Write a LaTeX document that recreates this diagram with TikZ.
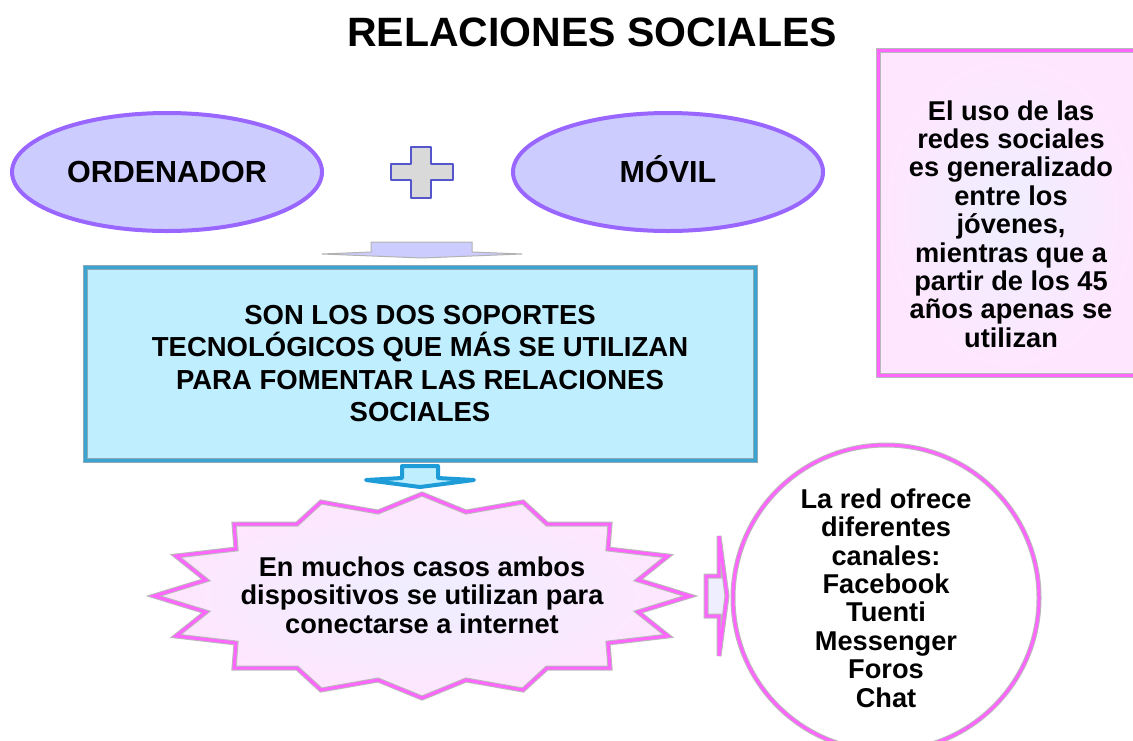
\documentclass[tikz,border=0pt]{standalone}
\usepackage{fontspec}
\setmainfont{Liberation Sans}
\usetikzlibrary{shapes.geometric}
\definecolor{lilac}{HTML}{CCCCFF}
\definecolor{ringpurple}{HTML}{9966FF}
\definecolor{crossgray}{HTML}{D9D9D9}
\definecolor{crossblue}{HTML}{5555CC}
\definecolor{skyfill}{HTML}{BFEFFF}
\definecolor{skyline}{HTML}{3AA3D0}
\definecolor{skyedge}{HTML}{8FA8B5}
\definecolor{dropblue}{HTML}{1E9CD7}
\definecolor{rose}{HTML}{FF66FF}
\definecolor{blush}{HTML}{FFE6FF}
\definecolor{haze}{HTML}{EEEEFF}
\begin{document}
\begin{tikzpicture}[x=0.5pt, y=-0.5pt,
    txt/.style={font=\bfseries\fontsize{13.6}{14.2}\selectfont, align=center, inner sep=0pt},
    device/.style={ellipse, draw=ringpurple, line width=2pt, fill=lilac, inner sep=0pt,
      minimum width=155pt, minimum height=59pt, font=\bfseries\fontsize{15.25}{18}\selectfont},
    pinkline/.style={draw=gray!55, line width=0.5pt, double=rose, double distance=1.5pt},
    joiner/.style={fill=crossgray, draw=crossblue, line width=1pt, line join=round},
    flatarrow/.style={fill=lilac, draw=gray!60, line width=0.5pt},
    mainbox/.style={rectangle, fill=skyfill, draw=skyedge, line width=0.5pt, double=skyline,
      double distance=1.5pt, minimum width=335pt, minimum height=96.5pt, inner sep=0pt,
      align=center, font=\bfseries\fontsize{13.75}{16.25}\selectfont},
    drop/.style={fill=skyfill, draw=dropblue, line width=2pt, line join=round},
    burst/.style={pinkline, inner color=haze, outer color=blush},
    pointer/.style={pinkline, fill=haze},
    channels/.style={circle, pinkline, fill=white, minimum size=153pt, txt},
    agebox/.style={rectangle, pinkline, inner color=haze, outer color=blush,
      minimum width=132pt, minimum height=162.5pt}]
    \useasboundingbox (0,0) rectangle (1133,740);
    \clip (0,0) rectangle (1133,740);
    \node[font=\bfseries\fontsize{20.5}{24}\selectfont] (title) at (592,32) {RELACIONES SOCIALES};
    \node[device] (pc) at (167,172) {ORDENADOR};
    \node[device] (phone) at (668,172) {M\smash{Ó}VIL};
    \draw[joiner] (411,147) -- (431,147) -- (431,164) -- (453,164) -- (453,180) -- (431,180)
      -- (431,198) -- (411,198) -- (411,180) -- (391,180) -- (391,164) -- (411,164) -- cycle;
    \draw[flatarrow] (371,242) -- (472,242) -- (472,252) -- (522,254) -- (422,258)
      -- (322,254) -- (371,252) -- cycle;
    \node[mainbox] (tech) at (420,363.5) {SON LOS DOS SOPORTES\\TECNOLÓGICOS QUE MÁS SE UTILIZAN\\PARA FOMENTAR LAS RELACIONES\\SOCIALES};
    \draw[drop] (402,466) -- (438,466) -- (438,478) -- (474,480) -- (420,487)
      -- (366,480) -- (402,478) -- cycle;
    \draw[burst, shift={(422,596)}] (0,-102)
      \foreach \dx/\dy in {44/-84,101/-94,125/-72,188/-72,186/-47,246/-40,216/-16,268/0,
        216/16,246/40,186/47,188/72,125/72,101/94,44/84,0/102} {-- (\dx,\dy)}
      \foreach \dx/\dy in {44/84,101/94,125/72,188/72,186/47,246/40,216/16,268/0,
        216/-16,246/-40,186/-47,188/-72,125/-72,101/-94,44/-84} {-- (-\dx,\dy)} -- cycle;
    \node[txt] (net) at (422,595) {En muchos casos ambos\\dispositivos se utilizan para\\conectarse a internet};
    \draw[pointer] (706,576) -- (719,576) -- (719,536) -- (727,596) -- (719,656)
      -- (719,616) -- (706,616) -- cycle;
    \node[channels] (web) at (886,598) {La red ofrece\\diferentes\\canales:\\Facebook\\Tuenti\\Messenger\\Foros\\Chat};
    \node[agebox] (age) at (1010,212.5) {};
    \node[txt] (agetext) at (1011,224) {El uso de las\\redes sociales\\es generalizado\\entre los\\jóvenes,\\mientras que a\\partir de los 45\\años apenas se\\utilizan};
\end{tikzpicture}
\end{document}
